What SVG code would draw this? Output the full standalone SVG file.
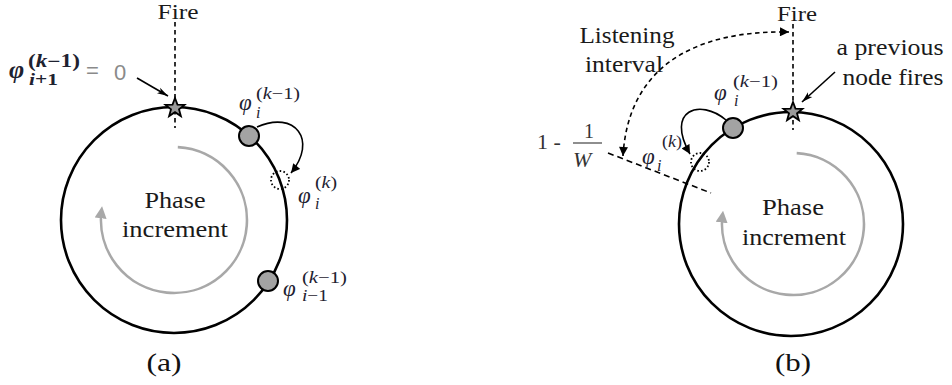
<svg xmlns="http://www.w3.org/2000/svg" width="952" height="385" viewBox="0 0 952 385">
<style>
.txt{font-family:"Liberation Serif","Times New Roman",serif;fill:#1a1a1a}
.cap{font-family:"Liberation Serif","Times New Roman",serif;fill:#111;font-size:26px}
.m{font-family:"Liberation Serif","Times New Roman",serif;fill:#1e2230}
.it{font-style:italic}
.ring{fill:none;stroke:#000;stroke-width:2.6}
.inner{fill:none;stroke:#a8a8a8;stroke-width:2.6}
.node{fill:#a3a3a3;stroke:#000;stroke-width:2}
.dot{fill:none;stroke:#000;stroke-width:1.8;stroke-dasharray:1.6 2.2}
.vdash{stroke:#000;stroke-width:1.6;stroke-dasharray:4.5 3.5;fill:none}
.arr{fill:none;stroke:#000;stroke-width:1.6}
</style>
<defs>
<marker id="ah" viewBox="0 0 10 10" refX="10" refY="5" markerWidth="10" markerHeight="9" markerUnits="userSpaceOnUse" orient="auto-start-reverse"><path d="M0,0 L10,5 L0,10 z" fill="#000"/></marker>
<marker id="ahg" viewBox="0 0 10 10" refX="6" refY="5" markerWidth="12" markerHeight="12" markerUnits="userSpaceOnUse" orient="auto"><path d="M0,0 L10,5 L0,10 z" fill="#a8a8a8"/></marker>
<marker id="ahn" viewBox="0 0 12 8" refX="12" refY="4" markerWidth="11" markerHeight="8" markerUnits="userSpaceOnUse" orient="auto"><path d="M0,0.5 L12,4 L0,7.5 L3,4 z" fill="#000"/></marker>
<polygon id="star" points="0,-10 2.47,-3.4 9.51,-3.09 3.99,1.3 5.88,8.09 0,4.2 -5.88,8.09 -3.99,1.3 -9.51,-3.09 -2.47,-3.4" fill="#9a9a9a" stroke="#000" stroke-width="1.8" stroke-linejoin="miter"/>
</defs>

<g id="connectors">
  <line class="vdash" x1="175" y1="22" x2="175" y2="128"/>
  <line class="vdash" x1="793" y1="24" x2="793" y2="130"/>
  <path class="arr" d="M137 78 L168 96" marker-end="url(#ahn)"/>
  <path class="arr" d="M835 72 L802 102" marker-end="url(#ahn)"/>
  <path class="arr" d="M257 127 C295 110, 318 140, 291 173" marker-end="url(#ah)"/>
  <path class="arr" d="M726 120 C700 98, 665 110, 690 154" marker-end="url(#ah)"/>
  <path class="vdash" d="M623 156 C628 70, 690 30, 789 32" marker-start="url(#ah)" marker-end="url(#ah)"/>
  <line class="vdash" x1="608" y1="153" x2="711" y2="193" style="stroke-dasharray:6 4"/>
</g>

<g id="panel-a">
  <g id="ring-a"><circle class="ring" cx="174" cy="220" r="113"/></g>
  <g id="phase-a">
    <path class="inner" d="M177.8 147.1 A73 73 0 1 1 101.5 211.1" marker-end="url(#ahg)"/>
    <text class="txt" x="175" y="208" font-size="23" text-anchor="middle" textLength="61" lengthAdjust="spacingAndGlyphs">Phase</text>
    <text class="txt" x="175" y="237" font-size="23" text-anchor="middle" textLength="106" lengthAdjust="spacingAndGlyphs">increment</text>
  </g>
  <g id="fire-a"><text class="txt" x="178" y="19" font-size="21" text-anchor="middle" textLength="41" lengthAdjust="spacingAndGlyphs">Fire</text></g>
  <g id="star-a"><use href="#star" x="175" y="108"/></g>
  <g id="label-i1">
    <text class="m it" x="9" y="78" font-size="26" font-weight="bold">φ</text>
    <text class="m" x="28" y="67" font-size="18" font-weight="bold" textLength="52" lengthAdjust="spacingAndGlyphs">(<tspan class="it">k</tspan>−1)</text>
    <text class="m" x="29" y="85" font-size="17" font-weight="bold" textLength="29" lengthAdjust="spacingAndGlyphs"><tspan class="it">i</tspan>+1</text>
    <text x="86" y="78" font-size="22" fill="#8a8a8a" font-family="Liberation Sans, Arial, sans-serif">=</text>
    <text x="114" y="80" font-size="22" fill="#8a8a8a" font-family="Liberation Sans, Arial, sans-serif">0</text>
  </g>
  <g id="node-i-a">
    <circle class="node" cx="249" cy="136" r="10"/>
    <text class="m it" x="239" y="110" font-size="23">φ</text>
    <text class="m" x="256" y="99" font-size="16" textLength="44" lengthAdjust="spacingAndGlyphs">(<tspan class="it">k</tspan>−1)</text>
    <text class="m it" x="256" y="118" font-size="16">i</text>
  </g>
  <g id="node-ik-a">
    <circle class="dot" cx="280" cy="180" r="9"/>
    <text class="m it" x="298" y="203" font-size="23">φ</text>
    <text class="m" x="315" y="188" font-size="16" textLength="22" lengthAdjust="spacingAndGlyphs">(<tspan class="it">k</tspan>)</text>
    <text class="m it" x="315" y="209" font-size="16">i</text>
  </g>
  <g id="node-im1-a">
    <circle class="node" cx="268" cy="281" r="10"/>
    <text class="m it" x="283" y="296" font-size="23">φ</text>
    <text class="m" x="302" y="283" font-size="16" textLength="45" lengthAdjust="spacingAndGlyphs">(<tspan class="it">k</tspan>−1)</text>
    <text class="m" x="302" y="301" font-size="16" textLength="26" lengthAdjust="spacingAndGlyphs"><tspan class="it">i</tspan>−1</text>
  </g>
  <g id="caption-a"><text class="cap" x="164" y="371" text-anchor="middle" textLength="35" lengthAdjust="spacingAndGlyphs">(a)</text></g>
</g>

<g id="panel-b">
  <g id="ring-b"><circle class="ring" cx="791" cy="224" r="112"/></g>
  <g id="phase-b">
    <path class="inner" d="M796.7 153.1 A71 71 0 1 1 722.5 215.4" marker-end="url(#ahg)"/>
    <text class="txt" x="793" y="215" font-size="23" text-anchor="middle" textLength="62" lengthAdjust="spacingAndGlyphs">Phase</text>
    <text class="txt" x="794" y="245" font-size="23" text-anchor="middle" textLength="104" lengthAdjust="spacingAndGlyphs">increment</text>
  </g>
  <g id="fire-b"><text class="txt" x="797" y="21" font-size="21" text-anchor="middle" textLength="40" lengthAdjust="spacingAndGlyphs">Fire</text></g>
  <g id="star-b"><use href="#star" x="793" y="112"/></g>
  <g id="prev-label">
    <text class="txt" x="890" y="55" font-size="23" text-anchor="middle" textLength="107" lengthAdjust="spacingAndGlyphs">a previous</text>
    <text class="txt" x="893" y="85" font-size="23" text-anchor="middle" textLength="101" lengthAdjust="spacingAndGlyphs">node fires</text>
  </g>
  <g id="listening-label">
    <text class="txt" x="627" y="43" font-size="23" text-anchor="middle" textLength="95" lengthAdjust="spacingAndGlyphs">Listening</text>
    <text class="txt" x="624" y="72" font-size="23" text-anchor="middle" textLength="78" lengthAdjust="spacingAndGlyphs">interval</text>
  </g>
  <g id="threshold-label">
    <text x="537" y="149" font-size="22" fill="#333" font-family="Liberation Serif, serif">1 -</text>
    <text x="584" y="138" font-size="20" fill="#333" font-family="Liberation Serif, serif">1</text>
    <line x1="573" y1="143" x2="602" y2="143" stroke="#444" stroke-width="1.2"/>
    <text x="573" y="167" font-size="22" fill="#333" font-style="italic" font-family="Liberation Serif, serif">W</text>
  </g>
  <g id="node-i-b">
    <circle class="node" cx="733" cy="128" r="10"/>
    <text class="m it" x="714" y="100" font-size="23">φ</text>
    <text class="m" x="733" y="87" font-size="16" textLength="45" lengthAdjust="spacingAndGlyphs">(<tspan class="it">k</tspan>−1)</text>
    <text class="m it" x="734" y="106" font-size="16">i</text>
  </g>
  <g id="node-ik-b">
    <circle class="dot" cx="700" cy="162" r="9"/>
    <text class="m it" x="642" y="164" font-size="23">φ</text>
    <text class="m" x="662" y="147" font-size="16" textLength="20" lengthAdjust="spacingAndGlyphs">(<tspan class="it">k</tspan>)</text>
    <text class="m it" x="657" y="171" font-size="16">i</text>
  </g>
  <g id="caption-b"><text class="cap" x="793" y="371" text-anchor="middle" textLength="36" lengthAdjust="spacingAndGlyphs">(b)</text></g>
</g>
</svg>
